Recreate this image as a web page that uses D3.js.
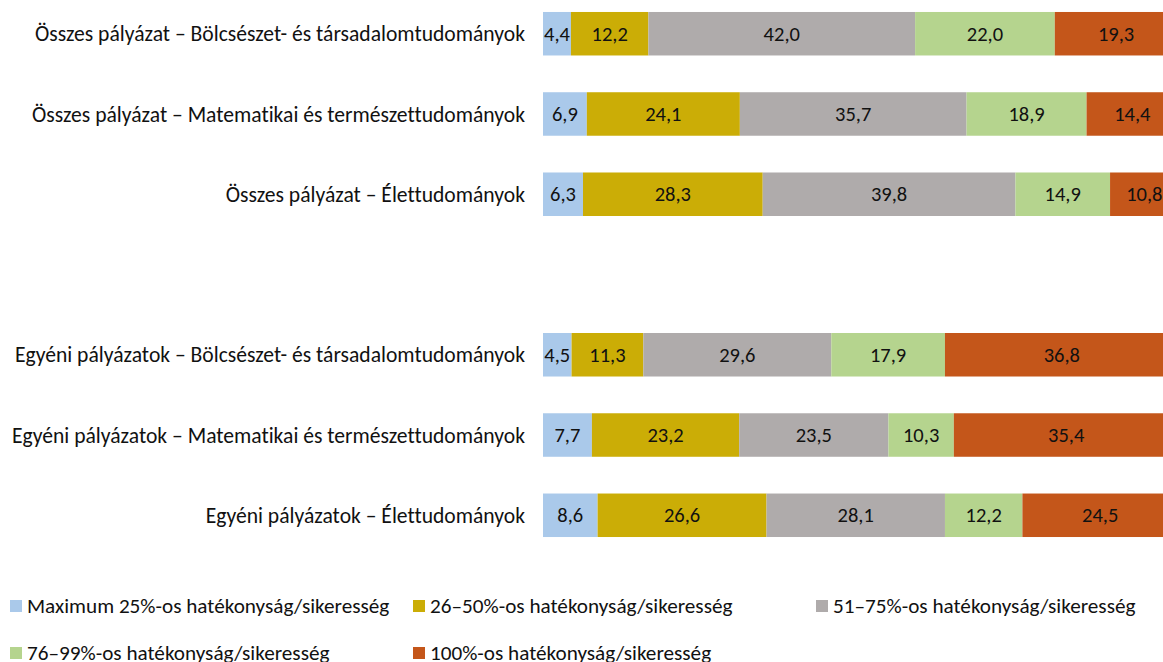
<!DOCTYPE html>
<html>
<head>
<meta charset="utf-8">
<script src="https://cdn.jsdelivr.net/npm/d3@7"></script>
<style>
  body { margin: 0; background: #fff; }
  svg { display: block; font-family: Calibri, Carlito, Lato, sans-serif; font-variant-ligatures: none; }
</style>
</head>
<body>
<svg width="1163" height="662"></svg>
<script>
// categories (the empty one is the gap between the two groups)
var categories = [
  "Összes pályázat – Bölcsészet- és társadalomtudományok",
  "Összes pályázat – Matematikai és természettudományok",
  "Összes pályázat – Élettudományok",
  "",
  "Egyéni pályázatok – Bölcsészet- és társadalomtudományok",
  "Egyéni pályázatok – Matematikai és természettudományok",
  "Egyéni pályázatok – Élettudományok"
];

var seriesNames = [
  "Maximum 25%-os hatékonyság/sikeresség",
  "26–50%-os hatékonyság/sikeresség",
  "51–75%-os hatékonyság/sikeresség",
  "76–99%-os hatékonyság/sikeresség",
  "100%-os hatékonyság/sikeresség"
];

var max25   = [4.4, 6.9, 6.3, null, 4.5, 7.7, 8.6];
var p26_50  = [12.2, 24.1, 28.3, null, 11.3, 23.2, 26.6];
var p51_75  = [42.0, 35.7, 39.8, null, 29.6, 23.5, 28.1];
var p76_99  = [22.0, 18.9, 14.9, null, 17.9, 10.3, 12.2];
var p100    = [19.3, 14.4, 10.8, null, 36.8, 35.4, 24.5];

var colors = ["#aac9ea", "#cbad06", "#afabab", "#b5d48e", "#c4561a"];

var svg = d3.select("svg");
var fontSize = 21.6;
var valueSize = 20.5;
var legendSize = 21.2;

var seriesValues = [max25, p26_50, p51_75, p76_99, p100];

var data = categories.map(function(c, i) {
  var row = {cat: c, idx: i};
  seriesNames.forEach(function(s, j) { row[s] = seriesValues[j][i] || 0; });
  return row;
}).filter(function(d) { return d.cat !== ""; });

var x = d3.scaleLinear()
    .domain([0, 100])
    .range([543, 1178]);

var y = d3.scaleBand()
    .domain(categories.map(function(c, i) { return i; }))
    .range([-6.4, 555.4])
    .paddingInner(0.458)
    .paddingOuter(0.229);

var stack = d3.stack().keys(seriesNames);
var stacked = stack(data);

var fmt = function(v) { return d3.format(".1f")(v).replace(".", ","); };

var layers = svg.append("g").selectAll("g")
  .data(stacked)
  .join("g")
    .attr("fill", function(d, i) { return colors[i]; });

layers.selectAll("rect")
  .data(function(d) { return d; })
  .join("rect")
    .attr("x", function(d) { return x(d[0]); })
    .attr("width", function(d) { return x(d[1]) - x(d[0]); })
    .attr("y", function(d) { return y(d.data.idx); })
    .attr("height", y.bandwidth());

layers.selectAll("text")
  .data(function(d) { return d; })
  .join("text")
    .attr("x", function(d) { return (x(d[0]) + x(d[1])) / 2; })
    .attr("y", function(d) { return y(d.data.idx) + y.bandwidth() / 2; })
    .attr("dy", "0.35em")
    .attr("text-anchor", "middle")
    .attr("fill", "#111")
    .style("font-size", valueSize + "px")
    .text(function(d) { return fmt(d[1] - d[0]); });

// category labels
svg.append("g").selectAll("text")
  .data(data)
  .join("text")
    .attr("x", 525)
    .attr("y", function(d) { return y(d.idx) + y.bandwidth() / 2; })
    .attr("dy", "0.35em")
    .attr("text-anchor", "end")
    .attr("fill", "#111")
    .style("font-size", fontSize + "px")
    .text(function(d) { return d.cat; });

// legend
var legend = svg.append("g").selectAll("g")
  .data(seriesNames)
  .join("g")
    .attr("transform", function(d, i) {
      return "translate(" + (10 + (i % 3) * 403) + "," + (606 + Math.floor(i / 3) * 47) + ")";
    });

legend.append("rect")
    .attr("x", 0)
    .attr("y", -6)
    .attr("width", 12)
    .attr("height", 12)
    .attr("fill", function(d, i) { return colors[i]; });

legend.append("text")
    .attr("x", 17)
    .attr("dy", "0.35em")
    .attr("fill", "#111")
    .style("font-size", legendSize + "px")
    .text(function(d) { return d; });
</script>
</body>
</html>
